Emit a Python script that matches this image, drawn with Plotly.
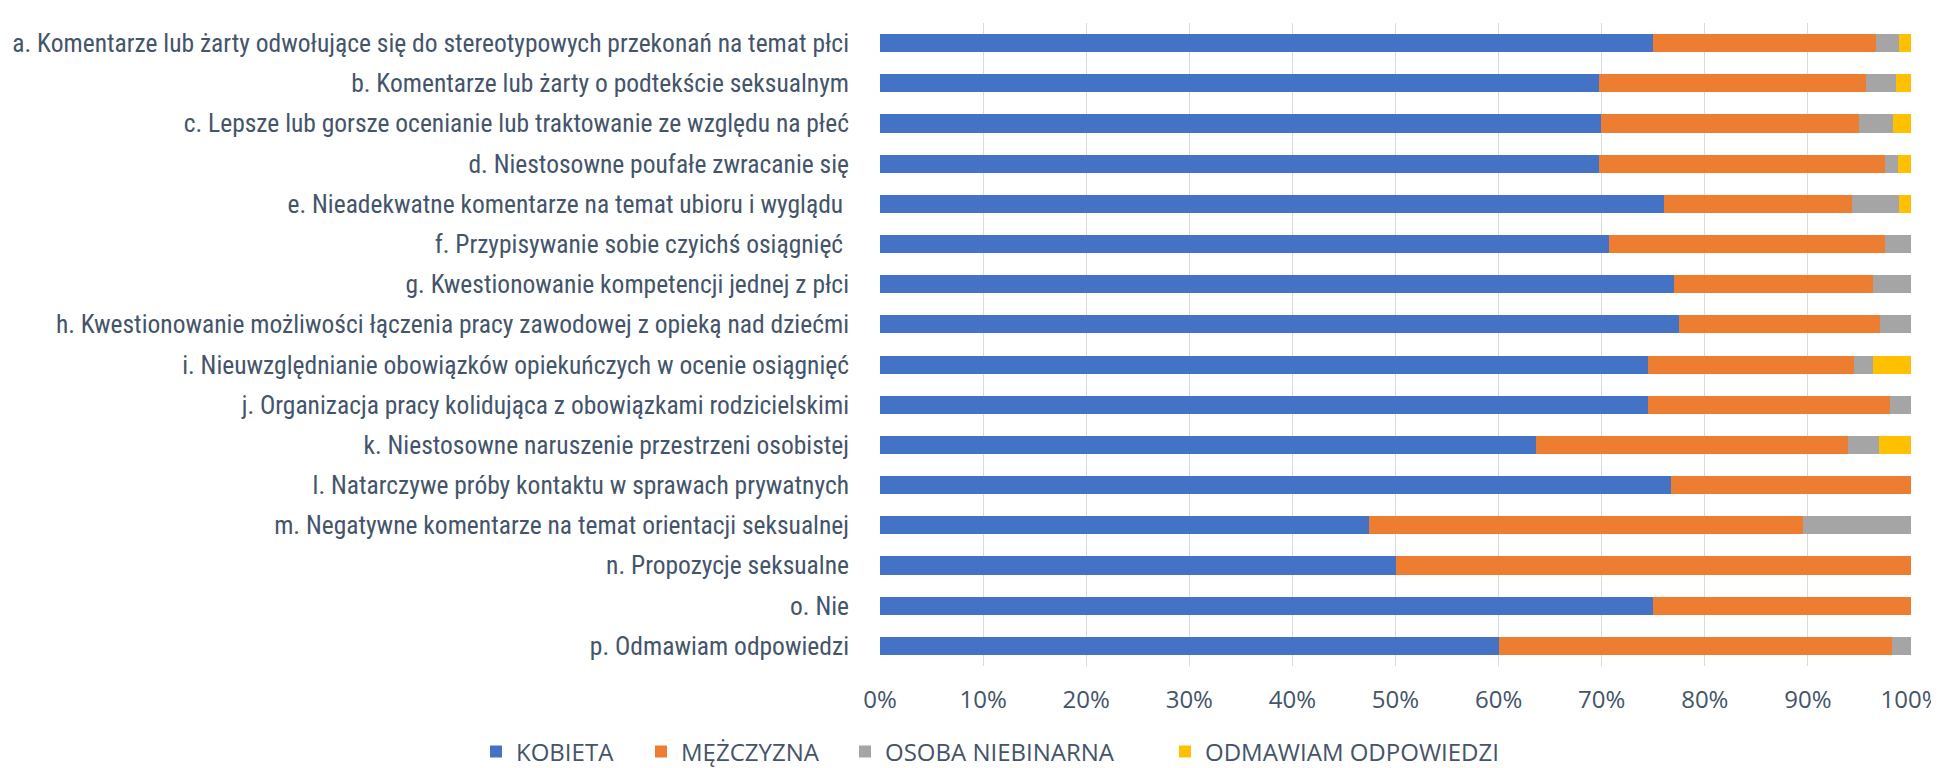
import plotly.graph_objects as go

categories = [
    "a. Komentarze lub żarty odwołujące się do stereotypowych przekonań na temat płci",
    "b. Komentarze lub żarty o podtekście seksualnym",
    "c. Lepsze lub gorsze ocenianie lub traktowanie ze względu na płeć",
    "d. Niestosowne poufałe zwracanie się",
    "e. Nieadekwatne komentarze na temat ubioru i wyglądu ",
    "f. Przypisywanie sobie czyichś osiągnięć ",
    "g. Kwestionowanie kompetencji jednej z płci",
    "h. Kwestionowanie możliwości łączenia pracy zawodowej z opieką nad dziećmi",
    "i. Nieuwzględnianie obowiązków opiekuńczych w ocenie osiągnięć",
    "j. Organizacja pracy kolidująca z obowiązkami rodzicielskimi",
    "k. Niestosowne naruszenie przestrzeni osobistej",
    "l. Natarczywe próby kontaktu w sprawach prywatnych",
    "m. Negatywne komentarze na temat orientacji seksualnej",
    "n. Propozycje seksualne",
    "o. Nie",
    "p. Odmawiam odpowiedzi",
]

kobieta =     [75.0, 69.7, 69.9, 69.7, 76.0, 70.7, 77.0, 77.5, 74.5, 74.5, 63.6, 76.7, 47.4, 50.0, 75.0, 60.0]
mezczyzna =   [21.6, 25.9, 25.1, 27.8, 18.3, 26.8, 19.3, 19.5, 20.0, 23.5, 30.3, 23.3, 42.1, 50.0, 25.0, 38.2]
niebinarna =  [2.2, 2.9, 3.3, 1.2, 4.5, 2.5, 3.7, 3.0, 1.8, 2.0, 3.0, 0.0, 10.5, 0.0, 0.0, 1.8]
odmawiam =    [1.2, 1.5, 1.7, 1.3, 1.2, 0.0, 0.0, 0.0, 3.7, 0.0, 3.1, 0.0, 0.0, 0.0, 0.0, 0.0]

series_names = ["KOBIETA", "MĘŻCZYZNA", "OSOBA NIEBINARNA", "ODMAWIAM ODPOWIEDZI"]
series_values = [kobieta, mezczyzna, niebinarna, odmawiam]
colors = ["#4472C4", "#ED7D31", "#A5A5A5", "#FFC000"]
legend_widths = [120, 159, 275, None]

tick_vals = [0, 10, 20, 30, 40, 50, 60, 70, 80, 90, 100]
tick_text = ["0%", "10%", "20%", "30%", "40%", "50%", "60%", "70%", "80%", "90%", "100%"]

FONT = "Liberation Sans Narrow, Arial Narrow, Roboto Condensed, Liberation Sans, sans-serif"
WIDE = "Open Sans, Noto Sans, sans-serif"
TXT = "#44546A"

fig = go.Figure()
for name, vals, col, lw in zip(series_names, series_values, colors, legend_widths):
    bar = go.Bar(
        y=categories, x=vals, name=name, orientation="h",
        marker=dict(color=col, line=dict(width=0)),
    )
    if lw is not None:
        bar.legendwidth = lw
    fig.add_trace(bar)

fig.update_layout(
    barmode="stack",
    bargap=0.55,
    width=1939, height=768,
    margin=dict(l=872, r=36, t=15, b=110, autoexpand=False),
    paper_bgcolor="white", plot_bgcolor="white",
    font=dict(family=FONT, color=TXT, size=25.5),
    legend=dict(orientation="h", x=(493 - 25) / 1939, xref="container", xanchor="left",
                y=24 / 768, yref="container", yanchor="middle",
                font=dict(family=WIDE, size=24, color=TXT),
                traceorder="normal", itemwidth=30, tracegroupgap=0),
    showlegend=True,
)
fig.update_xaxes(
    range=[0, 100], tickvals=tick_vals, ticktext=tick_text,
    showgrid=True, gridcolor="#D9D9D9", gridwidth=1,
    zeroline=False, showline=False, automargin=False,
    ticklabelstandoff=17, ticklabeloverflow="allow",
    tickfont=dict(family=WIDE, size=24, color=TXT),
)
fig.update_yaxes(
    categoryorder="array", categoryarray=categories,
    range=[15.5, -0.5], automargin=False,
    showgrid=False, zeroline=False, showline=False,
    ticklabelstandoff=30, tickfont=dict(size=25.5, color=TXT),
)

fig.write_html("out.html")
